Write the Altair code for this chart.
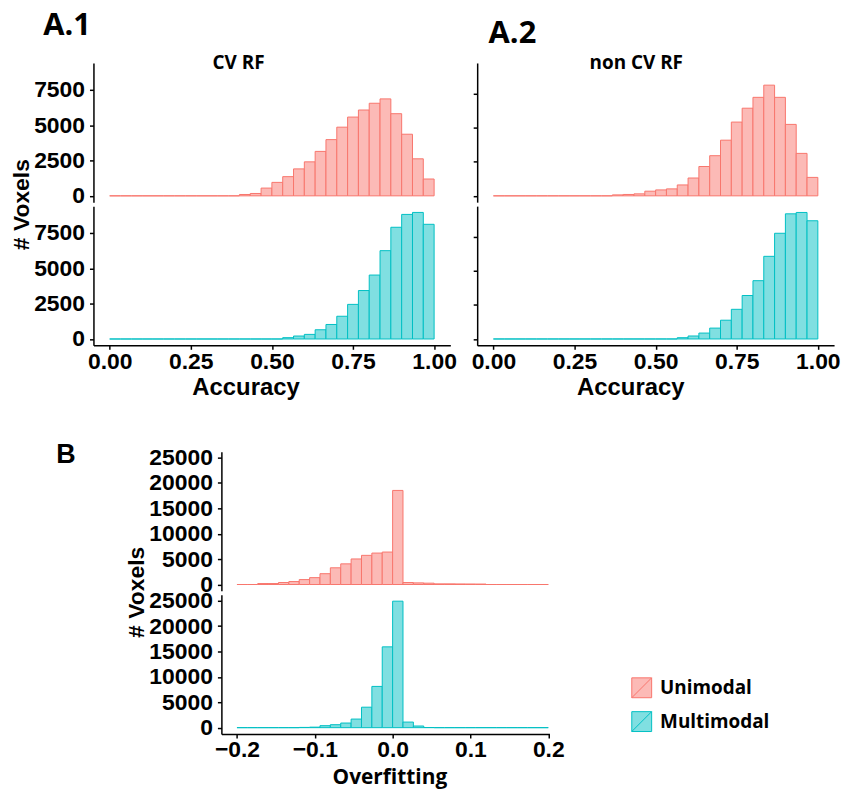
import altair as alt
import pandas as pd

# ---------------- data ----------------
groups = ["Unimodal", "Multimodal"]
fill_colors = ["#FCBAB6", "#80DFE1"]
stroke_colors = ["#F8766D", "#00BFC4"]

n_bins = 30
acc_range = [0.0, 1.0]
acc_ticks = [0.0, 0.25, 0.5, 0.75, 1.0]
over_range = [-0.2, 0.2]
over_ticks = [-0.2, -0.1, 0.0, 0.1, 0.2]
count_ticks_a = [0, 2500, 5000, 7500]
count_ticks_b = [0, 5000, 10000, 15000, 20000, 25000]

# A.1  CV RF  (30 bins on [0, 1])
cv_unimodal = [0] * 12 + [95, 167, 548, 952, 1357, 1905, 2405, 3143, 3976, 4857,
                          5571, 6071, 6548, 6857, 5810, 4357, 2619, 1190]
cv_multimodal = [0] * 16 + [93, 210, 326, 653, 1026, 1608, 2448, 3427, 4522,
                            6247, 7902, 8811, 8951, 8112]
# A.2  non CV RF
noncv_unimodal = [0] * 11 + [70, 100, 145, 340, 435, 510, 800, 1310, 2155, 2950,
                             4090, 5420, 6440, 7240, 8135, 7240, 5250, 3120, 1355]
noncv_multimodal = [0] * 17 + [95, 220, 435, 800, 1380, 2180, 3195, 4285, 6075,
                               7770, 9200, 9300, 8690]
# B  Overfitting (30 bins on [-0.2, 0.2])
over_unimodal = [0, 0, 190, 190, 390, 580, 970, 1355, 2130, 3290, 4065, 5030, 5740,
                 6190, 6390, 18520, 390, 320, 260, 130, 130, 110, 100, 90, 0, 0, 0, 0, 0, 0]
over_multimodal = [0, 0, 0, 0, 0, 0, 50, 100, 390, 585, 910, 1690, 4030, 8120, 15910,
                   24900, 1100, 325, 30, 0, 0, 0, 0, 0, 0, 0, 0, 0, 0, 0]


def hist_df(counts, group, lo, hi):
    w = (hi - lo) / n_bins
    return pd.DataFrame({
        "group": [group] * len(counts),
        "start": [lo + i * w for i in range(len(counts))],
        "end": [lo + (i + 1) * w for i in range(len(counts))],
        "count": counts,
    })


TICK_FONT = "Liberation Sans"
LABEL_FONT = "Open Sans"

LEGEND = alt.Legend(
    title=None, orient="none", legendX=541, legendY=623,
    symbolType="M-1,-1H1V1H-1Z M-1,1L1,-1", symbolSize=400, symbolStrokeWidth=1,
    labelFont=LABEL_FONT, labelFontSize=19, labelFontWeight="bold", labelColor="black",
    labelOffset=8, rowPadding=9,
)


def text_axis(text, font, size, tx, ty, align="left"):
    """Hidden top axis used only to carry a positioned label."""
    return alt.Axis(orient="top", domain=False, ticks=False, labels=False, grid=False,
                    title=text, titleFont=font, titleFontSize=size, titleFontWeight="bold",
                    titleColor="black", titleX=tx, titleY=ty, titleAlign=align,
                    titleBaseline="alphabetic", titleAngle=0)


def panel(df, xdom, ydom, xaxis, yaxis, xrange=None):
    sc = dict(domain=xdom, nice=False, zero=False)
    if xrange is not None:
        sc["range"] = xrange
    return alt.Chart(df).mark_bar(strokeWidth=1).encode(
        x=alt.X("start:Q", scale=alt.Scale(**sc), axis=xaxis),
        x2="end:Q",
        y=alt.Y("count:Q", scale=alt.Scale(domain=ydom, nice=False, zero=False), axis=yaxis),
        y2=alt.datum(0),
        fill=alt.Fill("group:N", scale=alt.Scale(domain=groups, range=fill_colors), legend=LEGEND),
        stroke=alt.Stroke("group:N", scale=alt.Scale(domain=groups, range=stroke_colors), legend=LEGEND),
    ).properties(width=W, height=H)


def yaxis(values, title=None, labels=True, title_y=142, offset=0):
    kw = dict(values=values, labels=labels, grid=False, format="d", labelPadding=5,
              offset=offset)
    if title is not None:
        kw.update(title=title, titleY=title_y, titleFont=TICK_FONT, titleFontSize=23,
                  titleFontWeight="bold", titleColor="black", titlePadding=0)
    else:
        kw.update(title=None)
    return alt.Axis(**kw)


def xaxis(values, fmt, title, title_font, title_size, title_x, title_pad=2):
    return alt.Axis(values=values, format=fmt, title=title, titleFont=title_font,
                    titleFontSize=title_size, titleFontWeight="bold", titleColor="black",
                    titlePadding=title_pad, titleX=title_x, labelFlush=False,
                    labelOverlap=False, labelPadding=1, grid=False)


def spacer(h, axis=None):
    if axis is None:
        enc = dict(x=alt.value(0), y=alt.value(0))
    else:
        enc = dict(x=alt.X("v:Q", scale=alt.Scale(domain=[0, 1]), axis=axis), y=alt.value(0))
    return alt.Chart(pd.DataFrame({"v": [0]})).mark_point(opacity=0, size=1).encode(
        **enc).properties(width=W, height=h)


W, H = 359, 140
xdom_a = [-0.05, 1.05]
ydom_a1 = [-447, 9397]
ydom_a2 = [-465, 9765]
ydom_b = [-1250, 26150]
xdom_b = [-0.22, 0.2015]
B_SHIFT = 128.7
xrange_b = [B_SHIFT, B_SHIFT + 330]

# row 0: figure labels
s_a1 = spacer(1, text_axis("A.1", LABEL_FONT, 31, -51, -24))
s_a2 = spacer(1, text_axis("A.2", LABEL_FONT, 31, 11, -16))

# rows 1-2: A.1 / A.2
a1_top = panel(hist_df(cv_unimodal, groups[0], *acc_range), xdom_a, ydom_a1,
               text_axis("CV RF", LABEL_FONT, 19, W / 2 - 34, 6, "center"),
               yaxis(count_ticks_a, "# Voxels"))
a2_top = panel(hist_df(noncv_unimodal, groups[0], *acc_range), xdom_a, ydom_a2,
               text_axis("non CV RF", LABEL_FONT, 19, W / 2 - 20, 6, "center"),
               yaxis(count_ticks_a, labels=False))
a1_bot = panel(hist_df(cv_multimodal, groups[1], *acc_range), xdom_a, ydom_a1,
               xaxis(acc_ticks, ".2f", "Accuracy", TICK_FONT, 24, 153), yaxis(count_ticks_a))
a2_bot = panel(hist_df(noncv_multimodal, groups[1], *acc_range), xdom_a, ydom_a2,
               xaxis(acc_ticks, ".2f", "Accuracy", TICK_FONT, 24, 154),
               yaxis(count_ticks_a, labels=False))

# row 3: vertical gap
g1 = spacer(99)
g2 = spacer(99)

# rows 4-5: B
b_top = panel(hist_df(over_unimodal, groups[0], *over_range), xdom_b, ydom_b,
              text_axis("B", TICK_FONT, 27, -38, 11),
              yaxis(count_ticks_b, "# Voxels", title_y=141, offset=-B_SHIFT), xrange_b)
b_bot = panel(hist_df(over_multimodal, groups[1], *over_range), xdom_b, ydom_b,
              xaxis(over_ticks, ".1f", "Overfitting", LABEL_FONT, 21, B_SHIFT + 169, 5),
              yaxis(count_ticks_b, offset=-B_SHIFT), xrange_b)
f1 = spacer(H)
f2 = spacer(H)

chart = alt.concat(
    s_a1, s_a2, a1_top, a2_top, a1_bot, a2_bot, g1, g2, b_top, f1, b_bot, f2,
    columns=2, bounds="flush", spacing={"row": 4, "column": 27},
).properties(
    padding={"left": 10, "top": 7, "right": 5, "bottom": 5},
    background="white",
).configure_view(stroke=None).configure_axis(
    domainColor="black", domainWidth=1.5, tickColor="black", tickWidth=1.5, tickSize=4,
    labelColor="black", labelFont=TICK_FONT, labelFontWeight="bold", labelFontSize=23,
)

chart.save("out.html", embed_options={"renderer": "svg", "actions": False})
